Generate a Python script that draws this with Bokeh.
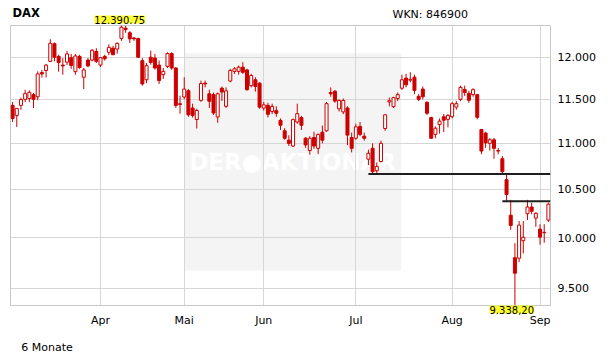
import pandas as pd
from bokeh.plotting import figure
from bokeh.layouts import column
from bokeh.models import Range1d, FixedTicker, Label, BoxAnnotation, ColumnDataSource, Title
from bokeh.embed import file_html
from bokeh.resources import INLINE

# ---------------- data (DAX daily candles, 03.03.2015 - 03.09.2015) ----------------
start_date = "2015-03-03"
end_date = "2015-09-03"
holidays = ["2015-04-03", "2015-04-06", "2015-05-01", "2015-05-25"]

opens = [
    11430, 11315, 11430, 11500, 11510, 11555, 11530, 11815, 11840, 11950,
    12165, 12010, 11905, 11940, 11995, 11826, 12010, 11760, 11965, 11965,
    12070, 11905, 12010, 12060, 12110, 12100, 12230, 12357, 12300, 12235,
    12228, 11958, 11730, 12000, 11990, 11905, 11790, 11890, 12045, 11870,
    11440, 11527, 11600, 11400, 11268, 11488, 11690, 11565, 11555, 11297,
    11630, 11420, 11715, 11830, 11830, 11880, 11847, 11660, 11730, 11690,
    11400, 11430, 11360, 11370, 11259, 11140, 11036, 10970, 11240, 11290,
    11057, 10920, 11065, 10945, 11125, 11140, 11580, 11595, 11390, 11355,
    11400, 11065, 11057, 11190, 11080, 10826, 10945, 10700, 10800, 11166,
    11470, 11415, 11510, 11630, 11750, 11725, 11760, 11535, 11620, 11465,
    11290, 11100, 11210, 11300, 11270, 11300, 11410, 11500, 11615, 11570,
    11555, 11555, 11155, 11115, 11000, 11040, 10920, 10830, 10604, 10230,
    9800, 9795, 9970, 10245, 10315, 10200, 10087, 10050, 10180,
]
highs = [
    11470, 11400, 11520, 11612, 11605, 11575, 11830, 11846, 11920, 12220,
    12180, 12030, 11988, 12076, 12040, 12040, 12030, 11870, 11990, 12100,
    12110, 12000, 12030, 12156, 12140, 12180, 12390.75, 12385, 12320, 12250,
    12240, 11990, 11930, 12080, 12040, 11960, 11870, 12060, 12060, 11880,
    11543, 11760, 11620, 11450, 11390, 11720, 11720, 11613, 11580, 11580,
    11650, 11640, 11860, 11880, 11900, 11940, 11860, 11800, 11760, 11700,
    11470, 11460, 11450, 11420, 11280, 11170, 11090, 11280, 11450, 11310,
    11070, 11080, 11130, 11110, 11200, 11470, 11640, 11610, 11500, 11510,
    11420, 11120, 11220, 11240, 11120, 10930, 11000, 10790, 11030, 11330,
    11520, 11530, 11580, 11790, 11800, 11820, 11790, 11560, 11650, 11480,
    11300, 11190, 11280, 11330, 11330, 11470, 11480, 11660, 11660, 11600,
    11630, 11560, 11160, 11130, 11060, 11060, 10950, 10860, 10662, 10390,
    9945, 10170, 10170, 10390, 10360, 10260, 10137, 10137, 10360,
]
lows = [
    11240, 11184, 11380, 11470, 11468, 11400, 11490, 11757, 11757, 11940,
    11950, 11826, 11790, 11906, 11860, 11790, 11860, 11620, 11880, 11950,
    11930, 11880, 11960, 12025, 12030, 12045, 12200, 12300, 12174, 12200,
    11990, 11660, 11690, 11910, 11850, 11680, 11740, 11870, 11850, 11400,
    11334, 11500, 11300, 11290, 11166, 11470, 11640, 11400, 11320, 11230,
    11480, 11400, 11700, 11800, 11790, 11800, 11600, 11640, 11590, 11390,
    11370, 11290, 11330, 11300, 11150, 11040, 10970, 10960, 11220, 11150,
    10950, 10873, 10940, 10880, 11000, 11130, 11530, 11460, 11360, 11330,
    10980, 10900, 11040, 11080, 11030, 10760, 10662, 10662, 10790, 11140,
    11420, 11400, 11480, 11610, 11640, 11700, 11560, 11480, 11500, 11320,
    11050, 11057, 11110, 11126, 11180, 11280, 11380, 11480, 11540, 11460,
    11530, 11270, 10880, 10950, 10920, 10830, 10880, 10660, 10380, 10080,
    9338.20, 9758, 9843, 10180, 10240, 10110, 9930, 9950, 10160,
]
closes = [
    11280, 11395, 11497, 11567, 11582, 11500, 11800, 11799, 11905, 12170,
    12000, 11935, 11895, 12040, 11900, 12015, 11875, 11847, 11895, 12085,
    11950, 11995, 11980, 12120, 12030, 12170, 12370, 12340, 12225, 12225,
    12000, 11680, 11898, 11937, 11870, 11720, 11830, 12045, 11870, 11430,
    11450, 11620, 11322, 11315, 11372, 11685, 11680, 11478, 11343, 11565,
    11585, 11600, 11840, 11860, 11880, 11818, 11613, 11780, 11650, 11410,
    11436, 11328, 11419, 11340, 11203, 11057, 11000, 11267, 11335, 11203,
    10983, 11057, 10970, 11100, 11036, 11450, 11565, 11480, 11487, 11487,
    11092, 10945, 11185, 11100, 11057, 10890, 10690, 10747, 11000, 11322,
    11484, 11520, 11555, 11730, 11670, 11735, 11605, 11500, 11530, 11340,
    11057, 11170, 11250, 11260, 11315, 11450, 11450, 11640, 11580, 11490,
    11613, 11293, 10915, 11005, 11040, 10945, 10915, 10690, 10446, 10125,
    9648, 10128, 10005, 10315, 10270, 10250, 10006, 10055, 10345,
]

month_labels = ["Apr", "Mai", "Jun", "Jul", "Aug", "Sep"]
y_ticks = [9500, 10000, 10500, 11000, 11500, 12000]
y_tick_labels = ["9.500", "10.000", "10.500", "11.000", "11.500", "12.000"]

# horizontal marker lines (start candle index, level)
level_start = [85, 117]
level_value = [10665, 10375]

title_text = "DAX"
wkn_text = "WKN: 846900"
period_text = "6 Monate"
watermark_text = "DER\u25cfAKTION\u00c4R"

# ---------------- preparation ----------------
dates = pd.bdate_range(start_date, end_date)
dates = dates[~dates.isin(pd.to_datetime(holidays))]
n = len(dates)
idx = list(range(n))

df = pd.DataFrame(dict(x=idx, date=dates, open=opens, high=highs, low=lows, close=closes))
df["top"] = df[["open", "close"]].max(axis=1)
df["bottom"] = df[["open", "close"]].min(axis=1)
up = df[df.close >= df.open]
down = df[df.close < df.open]

month_first = df.groupby(df.date.dt.to_period("M")).x.min().tolist()[1:]

RED = "#cc0000"
GRID = "#d6d6d6"
FONT = "DejaVu Sans"
YELLOW = "#ffff33"

lo_val = min(lows)
hi_val = max(highs)
hi_idx = int(df.high.idxmax())
lo_idx = int(df.low.idxmin())


def de_fmt(v):
    s = f"{v:,.2f}"
    return s.replace(",", "X").replace(".", ",").replace("X", ".")


x_range = Range1d(-0.5, n - 0.5)

# ---------------- header strip ----------------
head = figure(
    width=603, height=24, x_range=x_range, y_range=Range1d(0, 24),
    x_axis_location=None, y_axis_location=None,
    output_backend="svg", toolbar_location=None,
    min_border_left=10, min_border_right=53, min_border_top=0, min_border_bottom=0,
)
head.outline_line_color = None
head.grid.visible = False
head.background_fill_color = "white"
head.border_fill_color = "white"
head.add_layout(Label(x=2, y=11.5, x_units="screen", text=title_text,
                      text_font=FONT, text_font_size="11.5px", text_font_style="bold",
                      text_baseline="middle", text_color="black"))
head.add_layout(Label(x=382, y=10, x_units="screen", text=wkn_text,
                      text_font=FONT, text_font_size="11px",
                      text_baseline="middle", text_color="black"))
head.add_layout(Label(x=hi_idx - 0.4, y=1, text=de_fmt(hi_val), text_align="center",
                      text_baseline="bottom", text_font=FONT, text_font_size="10px",
                      text_color="black", background_fill_color=YELLOW))

# ---------------- main chart ----------------
p = figure(
    width=603, height=312,
    x_range=x_range,
    y_range=Range1d(lo_val, hi_val),
    y_axis_type="log", y_axis_location="right",
    output_backend="svg", toolbar_location=None,
    min_border_left=10, min_border_right=53,
    min_border_top=1, min_border_bottom=31,
)
p.background_fill_color = "white"
p.border_fill_color = "white"
p.outline_line_color = "#c8c8c8"
p.outline_line_width = 1

# watermark area
box = BoxAnnotation(left=41, right=92.85, top=12049, bottom=9675,
                    fill_color="#f4f4f4", fill_alpha=1.0, line_color=None, level="image")
p.add_layout(box)
wm = Label(x=66.9, y=10800, text=watermark_text, text_color="white",
           text_font=FONT, text_font_size="23px", text_font_style="bold",
           text_align="center", text_baseline="middle", level="image")
p.add_layout(wm)

# axes / grid
p.xaxis.ticker = FixedTicker(ticks=month_first, minor_ticks=[])
p.xaxis.major_label_overrides = {t: l for t, l in zip(month_first, month_labels)}
p.yaxis.ticker = FixedTicker(ticks=y_ticks, minor_ticks=[])
p.yaxis.major_label_overrides = {t: l for t, l in zip(y_ticks, y_tick_labels)}
p.xgrid.ticker = p.xaxis.ticker
p.ygrid.ticker = p.yaxis.ticker
for g in (p.xgrid, p.ygrid):
    g.grid_line_color = GRID
    g.grid_line_width = 1
for ax in (p.xaxis, p.yaxis):
    ax.axis_line_color = None
    ax.major_tick_line_color = None
    ax.minor_tick_line_color = None
    ax.major_tick_out = 0
    ax.major_tick_in = 0
    ax.major_label_text_font = FONT
    ax.major_label_text_font_size = "11px"
    ax.major_label_text_color = "#000000"
p.xaxis.major_label_standoff = -2
p.yaxis.major_label_standoff = 7

# candles
p.segment(x0="x", y0="low", x1="x", y1="high", source=ColumnDataSource(df.drop(columns="date")),
          line_color=RED, line_width=1)
p.vbar(x="x", width=0.72, top="top", bottom="bottom", source=ColumnDataSource(down.drop(columns="date")),
       fill_color=RED, line_color=RED, line_width=1)
p.vbar(x="x", width=0.72, top="top", bottom="bottom", source=ColumnDataSource(up.drop(columns="date")),
       fill_color="white", line_color=RED, line_width=1)

# horizontal marker lines
p.segment(x0=level_start, y0=level_value, x1=[n - 0.5] * len(level_start), y1=level_value,
          line_color="#1e1e1e", line_width=2)

# below-frame: low value tag right under the frame, then the month axis
low_tag = Title(text=de_fmt(lo_val), align="left", offset=479, standoff=0,
                vertical_align="top", text_font=FONT, text_font_size="10px",
                text_font_style="normal", text_color="black",
                background_fill_color=YELLOW)
xax = p.below[0]
p.below = [low_tag, xax]

# ---------------- footer strip ----------------
foot = figure(
    width=603, height=20, x_range=Range1d(0, 603), y_range=Range1d(0, 20),
    x_axis_location=None, y_axis_location=None,
    output_backend="svg", toolbar_location=None,
    min_border_left=0, min_border_right=0, min_border_top=0, min_border_bottom=0,
)
foot.outline_line_color = None
foot.grid.visible = False
foot.background_fill_color = "white"
foot.border_fill_color = "white"
foot.add_layout(Label(x=12, y=9, text=period_text, text_font=FONT, text_font_size="11px",
                      text_baseline="middle", text_color="black"))

layout = column(head, p, foot, spacing=0)
open("out.html", "w").write(file_html(layout, INLINE))
